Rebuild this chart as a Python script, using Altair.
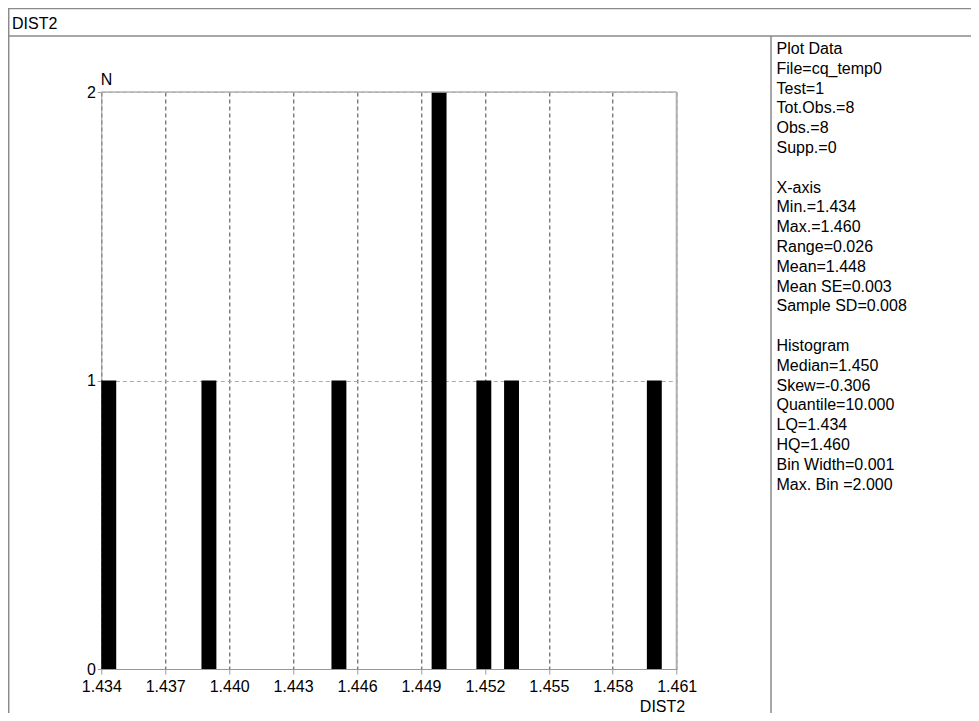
import altair as alt
import pandas as pd

# ---- data ----
bin_start = [1.4340, 1.4387, 1.4448, 1.4495, 1.4516, 1.4529, 1.4596]
bin_end = [1.4347, 1.4394, 1.4455, 1.4502, 1.4523, 1.4536, 1.4603]
counts = [1, 1, 1, 2, 1, 1, 1]
x_ticks = [1.434, 1.437, 1.440, 1.443, 1.446, 1.449, 1.452, 1.455, 1.458, 1.461]
y_ticks = [0, 1, 2]
header_text = "DIST2"
x_title = "DIST2"
y_title = "N"
panel_lines = [
    "Plot Data", "File=cq_temp0", "Test=1", "Tot.Obs.=8", "Obs.=8", "Supp.=0", "",
    "X-axis", "Min.=1.434", "Max.=1.460", "Range=0.026", "Mean=1.448",
    "Mean SE=0.003", "Sample SD=0.008", "",
    "Histogram", "Median=1.450", "Skew=-0.306", "Quantile=10.000", "LQ=1.434",
    "HQ=1.460", "Bin Width=0.001", "Max. Bin =2.000",
]

FONT = "Liberation Sans"
OX, OY = 101.3, 92.0          # page position of plot origin
W, H = 575.4, 577.0           # plot area size
SVG_W, SVG_H = 963, 705


def px(x):
    return x - OX


def py(y):
    return y - OY


bars_df = pd.DataFrame({"start": bin_start, "end": bin_end, "count": counts,
                        "base": [0] * len(counts)})

bars = alt.Chart(bars_df).mark_rect(color="black").encode(
    x=alt.X(
        "start:Q",
        scale=alt.Scale(domain=[1.434, 1.461], nice=False, zero=False),
        axis=alt.Axis(
            values=x_ticks, format=".3f", title=x_title,
            labelFont=FONT, labelFontSize=16, labelColor="black",
            labelFlush=False, labelOverlap=False, labelPadding=4,
            tickSize=5, tickColor="#999999", domainColor="#999999",
            grid=True, gridColor="#444444", gridDash=[4, 3], gridWidth=1,
            titleFont=FONT, titleFontSize=16, titleFontWeight="normal",
            titleColor="black", titleX=px(662), titleY=37,
            titleAlign="center", titleBaseline="middle",
        ),
    ),
    x2="end:Q",
    y=alt.Y(
        "count:Q",
        scale=alt.Scale(domain=[0, 2], nice=False, zero=True),
        axis=alt.Axis(
            values=y_ticks, format=".0f", title=y_title,
            labelFont=FONT, labelFontSize=16, labelColor="black",
            labelFlush=False, labelOverlap=False, labelPadding=2,
            tickSize=4, tickColor="#999999", domainColor="#999999",
            grid=True, gridColor="#aaaaaa", gridDash=[4, 3], gridWidth=1,
            titleFont=FONT, titleFontSize=16, titleFontWeight="normal",
            titleColor="black", titleAngle=0, titleX=px(106), titleY=py(79),
            titleAlign="center", titleBaseline="middle",
        ),
    ),
    y2="base:Q",
)

one = pd.DataFrame({"k": [0]})


def hrule(x1, x2, y, color, w):
    return alt.Chart(one).mark_rule(color=color, strokeWidth=w).encode(
        x=alt.value(x1), x2=alt.value(x2), y=alt.value(y)
    )


def vrule(x, y1, y2, color, w):
    return alt.Chart(one).mark_rule(color=color, strokeWidth=w).encode(
        x=alt.value(x), y=alt.value(y1), y2=alt.value(y2)
    )


frame_color = "#8a8a8a"
right_edge = SVG_W + 8
bottom_edge = SVG_H + 8
plot_top = hrule(0, W, 0, "#b0b0b0", 1.5)
plot_right = vrule(W, 0, H, "#b0b0b0", 2)
frame_top = hrule(px(8), px(right_edge), py(8.5), frame_color, 1.5)
frame_header = hrule(px(8), px(right_edge), py(36), frame_color, 1.5)
frame_left = vrule(px(8.7), py(8), py(bottom_edge), frame_color, 1.5)
frame_div = vrule(px(771), py(36), py(bottom_edge), frame_color, 1.5)

header = alt.Chart(one).mark_text(
    font=FONT, fontSize=16, align="left", baseline="middle", color="black"
).encode(x=alt.value(px(12)), y=alt.value(py(23.5)), text=alt.value(header_text))

panel_df = pd.DataFrame({"row": list(range(len(panel_lines))), "line": panel_lines})
panel = alt.Chart(panel_df).mark_text(
    font=FONT, fontSize=16, align="left", baseline="middle", color="black"
).encode(
    x=alt.value(px(776.5)),
    y=alt.Y(
        "row:Q",
        scale=alt.Scale(domain=[0, len(panel_lines) - 1],
                        range=[py(49), py(49 + 19.8 * (len(panel_lines) - 1))]),
        axis=None,
    ),
    text="line:N",
)

chart = alt.layer(
    bars, plot_top, plot_right, frame_top, frame_header, frame_left, frame_div,
    header, panel,
).resolve_scale(y="independent").properties(
    width=W, height=H, autosize="none",
    padding={"left": OX - 8, "top": OY - 8,
             "right": SVG_W - (OX - 8) - W, "bottom": SVG_H - (OY - 8) - H},
    background="white",
).configure_view(strokeWidth=0)

chart.save("out.html", embed_options={"renderer": "svg", "actions": False})
